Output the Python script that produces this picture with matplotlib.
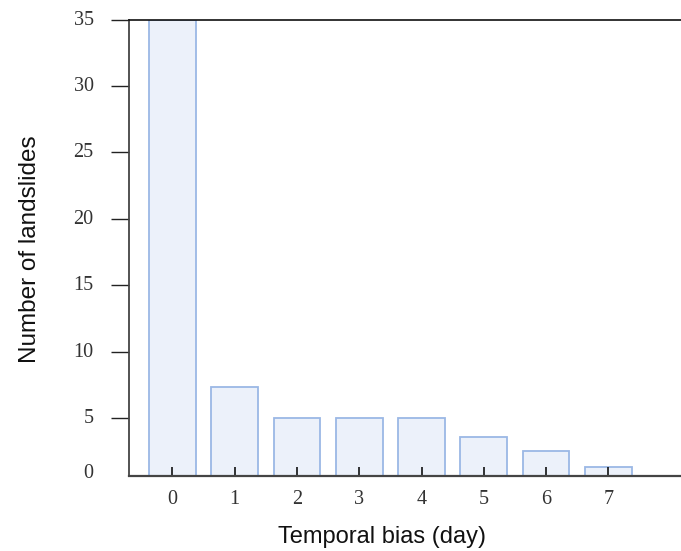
import matplotlib
matplotlib.use("Agg")
import matplotlib.pyplot as plt
from matplotlib.transforms import ScaledTranslation

# data
days = [0, 1, 2, 3, 4, 5, 6, 7]
counts = [35, 7.3, 5.0, 5.0, 5.0, 3.6, 2.55, 1.3]
ytick_values = [5, 10, 15, 20, 25, 30, 35]
ytick_labels = ["0", "5", "10", "15", "20", "25", "30", "35"]
xlabel = "Temporal bias (day)"
ylabel = "Number of landslides"

fig = plt.figure(figsize=(6.81, 5.51), dpi=100)
ax = fig.add_axes([0.189, 0.1361, 0.811, 0.8281])

ax.bar(days, counts, width=0.75, color="#ECF1FA", edgecolor="#9BB8E5",
       linewidth=1.3, zorder=1)

ymin = 0.63
ax.set_ylim(ymin, 35)
ax.set_xlim(-0.70, 8.165)

ax.set_yticks([ymin] + ytick_values)
ax.set_yticklabels(ytick_labels, family="Liberation Serif", fontsize=14.5,
                   color="#333333")
ax.set_xticks(days)
ax.set_xticklabels([str(d) for d in days], family="Liberation Serif",
                   fontsize=14.5, color="#333333")

ax.tick_params(axis="y", direction="out", length=12.7, width=1.0,
               color="#222222", pad=12.5)
ax.tick_params(axis="x", direction="in", length=6.3, width=1.2,
               color="#111111", pad=10)
ticks = ax.yaxis.get_major_ticks()
ticks[0].tick1line.set_visible(False)
for i, t in enumerate(ticks):
    dy = 5.0 if i == 0 else 2.0
    t.label1.set_transform(t.label1.get_transform() +
                           ScaledTranslation(0, dy / 100, fig.dpi_scale_trans))

ax.spines["right"].set_visible(False)
ax.spines["left"].set_color("#444444")
ax.spines["left"].set_linewidth(1.3)
ax.spines["bottom"].set_color("#444444")
ax.spines["bottom"].set_linewidth(1.6)
ax.spines["top"].set_color("#111111")
ax.spines["top"].set_linewidth(1.2)
for s in ax.spines.values():
    s.set_zorder(3)

ax.set_xlabel(xlabel, family="Liberation Sans", fontsize=17, color="#111111",
              va="baseline")
ax.xaxis.set_label_coords(0.4587, -0.1468)
ax.set_ylabel(ylabel, family="Liberation Sans", fontsize=17.5, color="#111111",
              va="center")
ax.yaxis.set_label_coords(-0.178, 0.4975)

fig.savefig("out.png", dpi=100)
